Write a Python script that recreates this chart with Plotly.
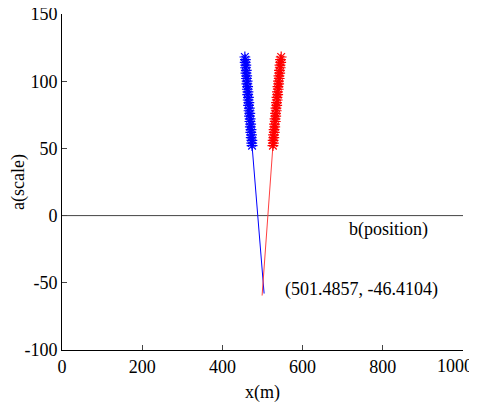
import plotly.graph_objects as go

# Blue asterisk series (b, a)
blue_x = [474.0, 473.2, 473.6, 471.9, 472.5, 470.8, 471.4, 469.6, 470.5, 468.7,
          469.2, 467.5, 468.3, 466.4, 467.1, 465.2, 466.0, 464.3, 465.0, 463.1,
          463.8, 462.2, 462.9, 461.0, 461.7, 460.1, 460.6, 458.8, 459.6, 457.9,
          458.4, 456.8, 457.3, 456.0]
blue_y = [52, 54, 56, 58, 60, 62, 64, 66, 68, 70,
          72, 74, 76, 78, 80, 82, 84, 86, 88, 90,
          92, 94, 96, 98, 100, 102, 104, 106, 108, 110,
          112, 114, 116, 118]

# Red asterisk series
red_x = [526.0, 527.1, 526.5, 528.3, 527.6, 529.4, 528.9, 530.6, 530.0, 531.9,
         531.2, 533.0, 532.5, 534.3, 533.6, 535.5, 534.9, 536.7, 536.1, 537.9,
         537.3, 539.2, 538.6, 540.4, 539.9, 541.7, 541.0, 542.9, 542.3, 544.2,
         543.6, 545.4, 544.9, 546.6]
red_y = [52, 54, 56, 58, 60, 62, 64, 66, 68, 70,
         72, 74, 76, 78, 80, 82, 84, 86, 88, 90,
         92, 94, 96, 98, 100, 102, 104, 106, 108, 110,
         112, 114, 116, 118]

# Connecting lines
blue_line_x = [474.0, 504.0]
blue_line_y = [52, -58]
red_line_x = [526.0, 499.0]
red_line_y = [52, -59.5]

# Zero reference line
zero_x = [0, 1000]
zero_y = [0, 0]

# Annotations
label_point = "(501.4857, -46.4104)"
label_point_pos = (551, -55)
label_axis = "b(position)"
label_axis_pos = (711, -10.4)

x_ticks = [0, 200, 400, 600, 800, 1000]
x_tick_text = ["0", "200", "400", "600", "800", ""]
last_x_tick_label = "1000"
y_ticks = [-100, -50, 0, 50, 100, 150]
y_tick_text = ["-100", "-50", "0", "50", "100", "150"]

font_family = "Liberation Serif"
tick_font = dict(family=font_family, size=18, color="black")

fig = go.Figure()
fig.add_trace(go.Scatter(x=zero_x, y=zero_y, mode="lines",
                         line=dict(color="#444444", width=1)))
fig.add_trace(go.Scatter(x=blue_line_x, y=blue_line_y, mode="lines",
                         line=dict(color="#0000ff", width=1)))
fig.add_trace(go.Scatter(x=red_line_x, y=red_line_y, mode="lines",
                         line=dict(color="#ff4040", width=1)))
fig.add_trace(go.Scatter(x=blue_x, y=blue_y, mode="markers",
                         marker=dict(symbol="asterisk-open", size=9, color="#0000ff",
                                     line=dict(color="#0000ff", width=1.2))))
fig.add_trace(go.Scatter(x=red_x, y=red_y, mode="markers",
                         marker=dict(symbol="asterisk-open", size=9, color="#ff0000",
                                     line=dict(color="#ff0000", width=1.2))))

fig.add_annotation(x=label_point_pos[0], y=label_point_pos[1], text=label_point,
                   showarrow=False, xanchor="left", yanchor="middle",
                   font=dict(family=font_family, size=18, color="black"))
fig.add_annotation(x=label_axis_pos[0], y=label_axis_pos[1], text=label_axis,
                   showarrow=False, xanchor="left", yanchor="middle",
                   font=dict(family=font_family, size=18, color="black"))
# last x tick label, nudged left so it stays inside the figure
fig.add_annotation(x=x_ticks[-1], y=0, xref="x", yref="paper", text=last_x_tick_label,
                   showarrow=False, xanchor="center", yanchor="top",
                   xshift=-8, yshift=-4,
                   font=dict(family=font_family, size=18, color="black"))

fig.update_layout(
    width=469, height=395,
    margin=dict(l=54, r=14, t=6, b=53, autoexpand=False),
    paper_bgcolor="white", plot_bgcolor="white",
    showlegend=False,
    font=dict(family=font_family, size=18, color="black"),
    xaxis=dict(range=[-0.01, 1000.01], tickvals=x_ticks, ticktext=x_tick_text,
               ticks="inside", ticklen=5, ticklabeloverflow="allow",
               showline=True, linecolor="black", linewidth=1, showgrid=False,
               zeroline=False, automargin=False,
               title=dict(text="x(m)", standoff=16, font=dict(family=font_family, size=18)),
               tickfont=tick_font),
    yaxis=dict(range=[-100.01, 150.01], tickvals=y_ticks, ticktext=y_tick_text,
               ticks="inside", ticklen=5, ticklabeloverflow="allow",
               showline=True, linecolor="black", linewidth=1, showgrid=False,
               zeroline=False, automargin=False,
               title=dict(text="a(scale)", standoff=6, font=dict(family=font_family, size=18)),
               tickfont=tick_font),
)

fig.write_html("out.html")
